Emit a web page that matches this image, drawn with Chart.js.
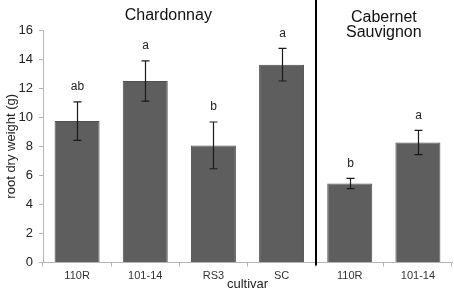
<!DOCTYPE html>
<html>
<head>
<meta charset="utf-8">
<script src="https://cdn.jsdelivr.net/npm/chart.js@4/dist/chart.umd.min.js"></script>
<style>
html,body{margin:0;padding:0;background:#fff;}
#wrap{width:454px;height:291px;position:relative;}
</style>
</head>
<body>
<div id="wrap"><canvas id="c" width="454" height="291"></canvas></div>
<script>
const categories = ['110R', '101-14', 'RS3', 'SC', '110R', '101-14'];
const means = [9.73, 12.49, 8.06, 13.61, 5.44, 8.26];
const errors = [1.33, 1.39, 1.61, 1.12, 0.35, 0.83];
const letters = ['ab', 'a', 'b', 'a', 'b', 'a'];
const groupNames = [['Chardonnay'], ['Cabernet', 'Sauvignon']];
const groupSizes = [4, 2];
const yTicks = [0, 2, 4, 6, 8, 10, 12, 14, 16];

const FONT = "'Liberation Sans', Arial, sans-serif";

const overlay = {
  id: 'overlay',
  afterDatasetsDraw(chart) {
    const ctx = chart.ctx;
    const xs = chart.scales.x, ys = chart.scales.y;
    const meta = chart.getDatasetMeta(0);
    ctx.save();
    // error bars
    ctx.strokeStyle = '#1a1a1a';
    ctx.lineWidth = 1.2;
    meta.data.forEach((bar, i) => {
      const x = Math.round(bar.x) + 0.5;
      const yT = ys.getPixelForValue(means[i] + errors[i]);
      const yB = ys.getPixelForValue(means[i] - errors[i]);
      ctx.beginPath();
      ctx.moveTo(x, yT); ctx.lineTo(x, yB);
      ctx.moveTo(x - 4, yT); ctx.lineTo(x + 4, yT);
      ctx.moveTo(x - 4, yB); ctx.lineTo(x + 4, yB);
      ctx.stroke();
      // letters
      ctx.fillStyle = '#222';
      ctx.font = '12px ' + FONT;
      ctx.textAlign = 'center';
      ctx.textBaseline = 'middle';
      ctx.fillText(letters[i], x, yT - 15);
    });
    // group separator + titles
    let start = 0;
    ctx.font = '16px ' + FONT;
    ctx.fillStyle = '#111';
    groupSizes.forEach((n, g) => {
      const end = start + n - 1;
      const cx = (xs.getPixelForValue(start) + xs.getPixelForValue(end)) / 2 + (g === 0 ? -11 : 0);
      const lines = groupNames[g];
      const y0 = lines.length > 1 ? 17.5 : 16;
      lines.forEach((t, k) => ctx.fillText(t, cx, y0 + k * 15));
      if (g < groupSizes.length - 1) {
        const sx = Math.round((xs.getPixelForValue(end) + xs.getPixelForValue(end + 1)) / 2);
        ctx.strokeStyle = '#000';
        ctx.lineWidth = 2;
        ctx.beginPath();
        ctx.moveTo(sx, 0);
        ctx.lineTo(sx, ys.bottom + 3);
        ctx.stroke();
      }
      start += n;
    });
    ctx.restore();
  }
};

new Chart(document.getElementById('c'), {
  type: 'bar',
  data: {
    labels: categories,
    datasets: [{
      data: means,
      backgroundColor: '#5e5e5e',
      borderColor: '#4f4f4f',
      borderWidth: 1,
      categoryPercentage: 1,
      barPercentage: 0.66
    }]
  },
  options: {
    responsive: false,
    animation: false,
    devicePixelRatio: 1,
    layout: { padding: { top: 30, right: 2, left: 0, bottom: 0 } },
    plugins: { legend: { display: false }, tooltip: { enabled: false } },
    scales: {
      x: {
        offset: true,
        grid: { display: true, drawOnChartArea: false, drawTicks: true, tickLength: 4, color: '#b5b5b5', offset: true },
        border: { display: true, color: '#b5b5b5', width: 1 },
        ticks: { color: '#333', font: { family: FONT, size: 11 }, padding: 3, maxRotation: 0 },
        title: { display: true, text: 'cultivar', color: '#222', font: { family: FONT, size: 13, lineHeight: 1 }, padding: { top: 0, bottom: 0 } },
        afterFit(s) { s.height = 28.5; }
      },
      y: {
        min: 0, max: 16,
        afterBuildTicks(s) { s.ticks = yTicks.map(v => ({ value: v })); },
        grid: { display: true, drawOnChartArea: false, drawTicks: true, tickLength: 4, color: '#b5b5b5' },
        border: { display: true, color: '#b5b5b5', width: 1 },
        ticks: { color: '#222', font: { family: FONT, size: 13 }, padding: 6 },
        title: { display: true, text: 'root dry weight (g)', color: '#222', font: { family: FONT, size: 13 }, padding: { top: 4, bottom: 0 } },
        afterFit(s) { s.width = 43; }
      }
    }
  },
  plugins: [overlay]
});
</script>
</body>
</html>
